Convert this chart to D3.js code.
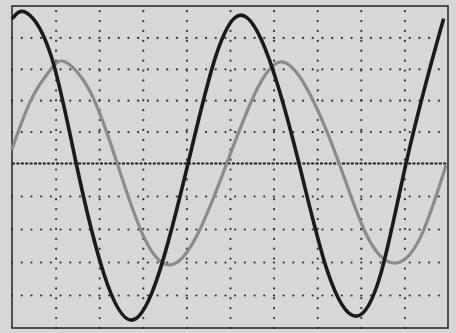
<!DOCTYPE html>
<html>
<head>
<meta charset="utf-8">
<script src="https://cdn.jsdelivr.net/npm/d3@7"></script>
<style>
  html, body { margin: 0; padding: 0; background: #d7d7d5; }
  svg { display: block; }
</style>
</head>
<body>
<svg id="chart" width="456" height="333"></svg>
<script>
// Time in horizontal divisions (0..10), voltage in vertical divisions (-5..5)
const blackT = [0.02, 0.34, 0.90, 1.47, 2.11, 2.75, 3.38, 4.04, 4.65, 5.25, 5.90, 6.58, 7.24, 7.89, 8.47, 9.04, 9.62, 9.89];
const blackV = [4.62, 4.78, 3.40, 0.00, -3.37, -4.76, -3.30, 0.00, 3.30, 4.71, 3.30, 0.00, -3.30, -4.64, -3.30, 0.00, 3.20, 4.55];

const grayT = [0.00, 0.45, 0.87, 1.22, 1.82, 2.41, 3.01, 3.62, 4.26, 4.93, 5.55, 6.17, 6.83, 7.50, 8.12, 8.74, 9.35, 9.95];
const grayV = [0.45, 2.05, 2.95, 3.22, 2.20, 0.00, -2.20, -3.09, -2.15, 0.00, 2.15, 3.22, 2.20, 0.00, -2.15, -3.03, -2.30, -0.09];

const gridX = [1, 2, 3, 4, 5, 6, 7, 8, 9];
const gridY = [-4, -3, -2, -1, 1, 2, 3, 4];
const centerY = [0];

const svg = d3.select("#chart");
const x = d3.scaleLinear().domain([0, 10]).range([12, 448]);
const y = d3.scaleLinear().domain([-5, 0, 5]).range([328, 163, 6]);

const yTop = y(5), yBottom = y(-5), xLeft = x(0), xRight = x(10);

// dotted vertical graticule
svg.append("g")
  .attr("transform", `translate(0,${yBottom})`)
  .call(d3.axisBottom(x).tickValues(gridX).tickSize(-(yBottom - yTop)).tickFormat(""))
  .call(g => g.select(".domain").remove())
  .call(g => g.selectAll(".tick line")
    .attr("stroke", "#363636").attr("stroke-width", 2.2)
    .attr("stroke-linecap", "round")
    .attr("stroke-dasharray", "0.1 9.8"));

// dotted horizontal graticule
svg.append("g")
  .attr("transform", `translate(${xLeft},0)`)
  .call(d3.axisLeft(y).tickValues(gridY).tickSize(-(xRight - xLeft)).tickFormat(""))
  .call(g => g.select(".domain").remove())
  .call(g => g.selectAll(".tick line")
    .attr("stroke", "#363636").attr("stroke-width", 2.2)
    .attr("stroke-linecap", "round")
    .attr("stroke-dasharray", "0.1 9.6"));

// dashed centre line
svg.append("g")
  .attr("transform", `translate(${xLeft},0)`)
  .call(d3.axisLeft(y).tickValues(centerY).tickSize(-(xRight - xLeft)).tickFormat(""))
  .call(g => g.select(".domain").remove())
  .call(g => g.selectAll(".tick line")
    .attr("stroke", "#1f1f1f").attr("stroke-width", 1.8)
    .attr("stroke-dasharray", "3 1.4"));

// frame
svg.append("rect")
  .attr("x", xLeft).attr("y", yTop)
  .attr("width", xRight - xLeft).attr("height", yBottom - yTop)
  .attr("fill", "none").attr("stroke", "#2e2e2e").attr("stroke-width", 1.6);

const line = d3.line()
  .x(d => x(d[0])).y(d => y(d[1]))
  .curve(d3.curveNatural);

svg.append("path")
  .datum(d3.zip(grayT, grayV))
  .attr("d", line)
  .attr("fill", "none").attr("stroke", "#8c8a8b").attr("stroke-width", 3.2)
  .attr("stroke-linecap", "round");

svg.append("path")
  .datum(d3.zip(blackT, blackV))
  .attr("d", line)
  .attr("fill", "none").attr("stroke", "#1c1a1c").attr("stroke-width", 3.6)
  .attr("stroke-linecap", "round");
</script>
</body>
</html>
